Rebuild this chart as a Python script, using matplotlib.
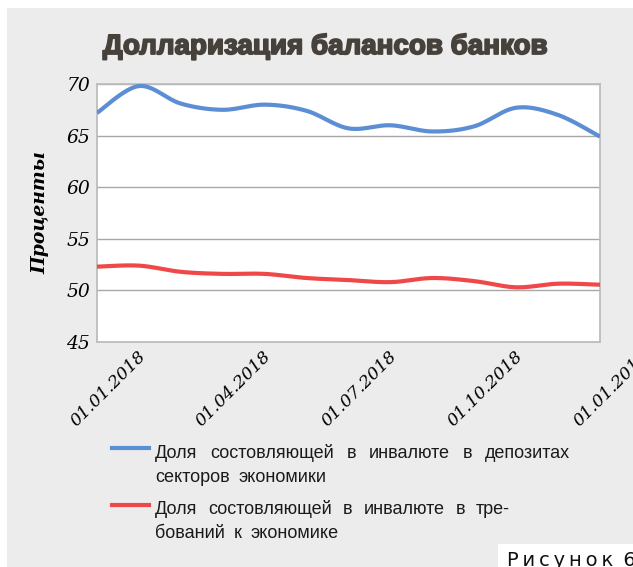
import numpy as np
import matplotlib
matplotlib.use("Agg")
import matplotlib.pyplot as plt
from matplotlib.lines import Line2D
from matplotlib.patches import Rectangle
import matplotlib.transforms as mtransforms
import matplotlib.patheffects as pe

# ---------------- data ----------------
months = list(range(-1, 12))  # Dec 2017 .. Dec 2018, index 0 = 01.01.2018
deposits = [67.2, 69.8, 68.1, 67.5, 68.0, 67.4, 65.7, 66.0, 65.4, 65.9, 67.7, 67.0, 64.9]
claims = [52.3, 52.4, 51.8, 51.6, 51.6, 51.2, 51.0, 50.8, 51.2, 50.9, 50.3, 50.65, 50.55]
tick_pos = [0, 3, 6, 9, 12]
tick_labels = ["01.01.2018", "01.04.2018", "01.07.2018", "01.10.2018", "01.01.2019"]
y_ticks = [45, 50, 55, 60, 65, 70]
title = "Долларизация балансов банков"
ylabel = "Проценты"
legend_lines = [
    ["Доля состовляющей в инвалюте в депозитах", "секторов экономики"],
    ["Доля состовляющей в инвалюте в тре-", "бований к экономике"],
]
fig_caption = "Р\u2009и\u2009с\u2009у\u2009н\u2009о\u2009к\u2009 6"

BLUE = "#5b8ed4"
RED = "#f04848"
BG = "#ececec"


def smooth(x, y, n=24):
    pts = np.column_stack([x, y]).astype(float)
    P = np.vstack([pts[0], pts, pts[-1]])
    out = []
    t = np.linspace(0, 1, n, endpoint=False)[:, None]
    for i in range(1, len(P) - 2):
        p0, p1, p2, p3 = P[i - 1], P[i], P[i + 1], P[i + 2]
        c1 = p1 + (p2 - p0) / 6.0
        c2 = p2 - (p3 - p1) / 6.0
        seg = (1 - t) ** 3 * p1 + 3 * (1 - t) ** 2 * t * c1 + 3 * (1 - t) * t ** 2 * c2 + t ** 3 * p2
        out.append(seg)
    out.append(pts[-1:])
    return np.vstack(out)


W, H = 633, 567
fig = plt.figure(figsize=(W / 100, H / 100), dpi=100)
fig.patch.set_facecolor("white")
fig.add_artist(Rectangle((7 / W, 0), 1 - 7 / W, 1 - 8 / H, transform=fig.transFigure,
                         facecolor=BG, edgecolor="none", zorder=-5))

ax = fig.add_axes([97 / W, 1 - 342 / H, 503 / W, (342 - 84) / H])
ax.set_facecolor("white")

sd = smooth(months, deposits)
sc = smooth(months, claims)
ax.plot(sd[:, 0], sd[:, 1], color=BLUE, lw=3.0, solid_capstyle="butt", zorder=3)
ax.plot(sc[:, 0], sc[:, 1], color=RED, lw=3.0, solid_capstyle="butt", zorder=3)

ax.set_xlim(months[0], months[-1])
ax.set_ylim(y_ticks[0], y_ticks[-1])
ax.set_yticks(y_ticks)
ax.set_yticklabels([str(v) for v in y_ticks], family="DejaVu Serif", style="italic", fontsize=13.5)
ax.yaxis.grid(True, color="#a8a8a8", lw=1.0)
ax.set_axisbelow(True)
ax.tick_params(axis="both", length=0, pad=5)
ax.set_xticks([])
for s in ax.spines.values():
    s.set_color("#bdbdbd")
    s.set_linewidth(1.3)

# x tick labels (last one lies beyond the plotted range, cut by the figure edge)
trans = mtransforms.blended_transform_factory(ax.transData, ax.transAxes)
offset = mtransforms.ScaledTranslation(-2 / 100, -6 / 100, fig.dpi_scale_trans)
for p, lab in zip(tick_pos, tick_labels):
    ax.text(p, 0, lab, transform=trans + offset, rotation=45, rotation_mode="anchor",
            ha="right", va="top", family="DejaVu Serif", style="italic", fontsize=12.5,
            clip_on=False)

fig.text(40 / W, 1 - 213 / H, ylabel, rotation=90, ha="center", va="center",
         family="DejaVu Serif", style="italic", weight="bold", fontsize=13.5)

fig.text(325 / W, 1 - 54 / H, title, ha="center", va="baseline",
         family="Liberation Sans", weight="bold", fontsize=20, color="#46413b",
         path_effects=[pe.withStroke(linewidth=1.3, foreground="#46413b")])

# legend (justified first lines, as in the reference layout)
renderer = fig.canvas.get_renderer()


def place_words(line, x0, y, x1=None, gap=9.0, **kw):
    words = line.split(" ")
    texts = [fig.text(0, 1 - y / H, w, ha="left", va="baseline", **kw) for w in words]
    widths = [t.get_window_extent(renderer).width for t in texts]
    if x1 is not None and len(words) > 1:
        gap = (x1 - x0 - sum(widths)) / (len(words) - 1)
    x = x0
    for t, w in zip(texts, widths):
        t.set_x(x / W)
        x += w + gap


entry_base = [457.5, 514.0]
line1_right = [570, 510]
for lines, color, yb, xr in zip(legend_lines, [BLUE, RED], entry_base, line1_right):
    fig.add_artist(Line2D([112 / W, 149 / W], [1 - (yb - 9.5) / H] * 2, color=color, lw=3.0,
                          transform=fig.transFigure))
    place_words(lines[0], 155, yb, x1=xr, family="Liberation Sans", fontsize=13, color="#1a1a1a")
    place_words(lines[1], 155, yb + 24.2, gap=9.0, family="Liberation Sans", fontsize=13,
                color="#1a1a1a")

fig.add_artist(Rectangle((498 / W, 0), 1 - 498 / W, (567 - 544) / H, transform=fig.transFigure,
                         facecolor="white", edgecolor="none", zorder=1))
fig.text(507 / W, 1 - 566 / H, fig_caption, ha="left", va="baseline",
         family=["DejaVu Sans"], fontsize=14, color="#111111", zorder=2)

fig.savefig("out.png", dpi=100, facecolor=fig.get_facecolor())
